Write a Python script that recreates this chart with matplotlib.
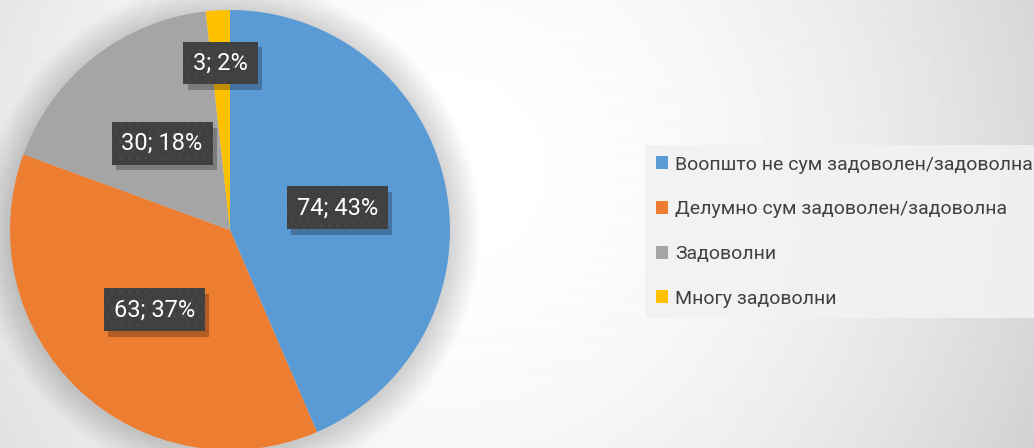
import numpy as np
import matplotlib.pyplot as plt
from matplotlib.patches import Patch, Circle
from matplotlib import patheffects

plt.rcParams['font.family'] = ['Roboto', 'DejaVu Sans']
plt.rcParams['hatch.linewidth'] = 0.4

# Data
categories = ['Воопшто не сум задоволен/задоволна',
              'Делумно сум задоволен/задоволна',
              'Задоволни',
              'Многу задоволни']
counts = [74, 63, 30, 3]
percents = [43, 37, 18, 2]
colors = ['#5B9BD5', '#ED7D31', '#A5A5A5', '#FFC000']
label_dist = [0.5, 0.5, 0.5, 0.76]


class PlainShadow(patheffects.SimplePatchShadow):
    # shadow without the hatch of the box
    def draw_path(self, renderer, gc, tpath, affine, rgbFace):
        gc0 = renderer.new_gc()
        gc0.copy_properties(gc)
        gc0.set_hatch(None)
        super().draw_path(renderer, gc0, tpath, affine, rgbFace)


W, H = 1034, 448
fig = plt.figure(figsize=(W / 100, H / 100), dpi=100)

# background radial gradient
bg = fig.add_axes([0, 0, 1, 1])
yy, xx = np.mgrid[0:H, 0:W]
d2 = (xx - 450.0) ** 2 + (yy - 170.0) ** 2
shade = np.clip(255 - 1.1e-4 * d2, 195, 255) / 255.0
bg.imshow(shade, cmap='gray', vmin=0, vmax=1, aspect='auto', extent=[0, 1, 0, 1])
bg.axis('off')

# pie axes (440 px square)
ax = fig.add_axes([10 / W, -2 / H, 440 / W, 440 / H])
ax.axis('off')

# soft shadow around pie
for k in range(14):
    ax.add_patch(Circle((0.0, -0.01), 1.0 + 0.01 * (14 - k), color='black',
                        alpha=0.01, lw=0, zorder=0, clip_on=False))

wedges, _ = ax.pie(counts, colors=colors, startangle=90, counterclock=False,
                   radius=1, wedgeprops=dict(linewidth=0))
ax.set_xlim(-1, 1)
ax.set_ylim(-1, 1)

for w, c, p, dist in zip(wedges, counts, percents, label_dist):
    ang = np.deg2rad((w.theta1 + w.theta2) / 2)
    x, y = dist * np.cos(ang), dist * np.sin(ang)
    t = ax.text(x, y, f'{c}; {p}%', ha='center', va='center', fontsize=17,
                color='white', zorder=4,
                bbox=dict(boxstyle='square,pad=0.42', facecolor='#404040',
                          edgecolor='#4e4e4e', lw=0, hatch='..'))
    t.get_bbox_patch().set_path_effects([
        PlainShadow(offset=(3, -4), shadow_rgbFace='black', alpha=0.25),
        patheffects.Normal()])

handles = [Patch(facecolor=c, edgecolor='none') for c in colors]
leg = fig.legend(handles, categories, loc='upper left',
                 bbox_to_anchor=(645 / W, 1 - 145 / H), frameon=True,
                 fancybox=False, fontsize=14, labelspacing=1.37,
                 handlelength=0.65, handleheight=0.65, handletextpad=0.35,
                 borderpad=0.55, borderaxespad=0)
leg.get_frame().set_facecolor('#f2f2f2')
leg.get_frame().set_edgecolor('none')
leg.get_frame().set_alpha(0.9)
for t in leg.get_texts():
    t.set_color('#404040')

fig.savefig('out.png', dpi=100)
